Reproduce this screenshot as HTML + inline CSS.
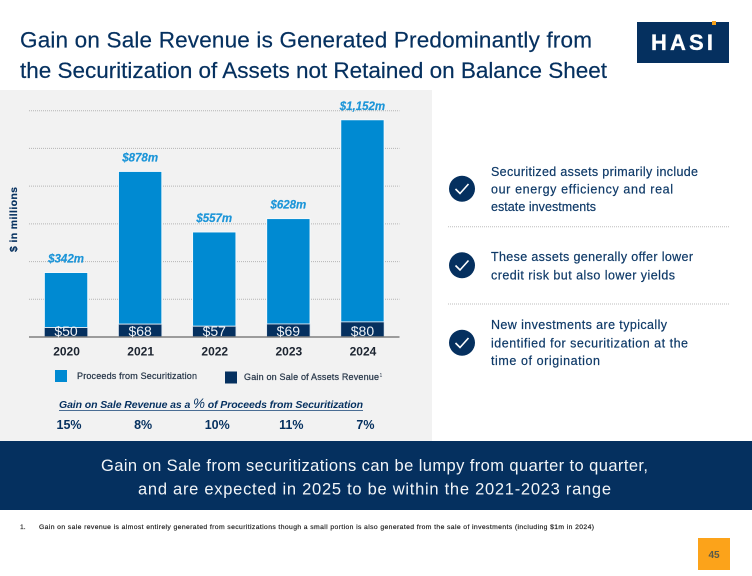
<!DOCTYPE html>
<html lang="en">
<head>
<meta charset="utf-8">
<title>Gain on Sale Revenue</title>
<style>
html,body{margin:0;padding:0;background:#fff;width:752px;height:576px;overflow:hidden}
svg{display:block;font-family:"Liberation Sans",sans-serif}
.navy{fill:#05305f}
.body-text{font-size:12.5px;fill:#0f3a68;stroke:#0f3a68;stroke-width:.2px}
</style>
</head>
<body>
<svg id="slide" width="752" height="576" viewBox="0 0 752 576" xmlns="http://www.w3.org/2000/svg">
  <rect width="752" height="576" fill="#fff"/>

  <g>
    <text class="navy" x="20" y="47.5" font-size="22.5" stroke="#05305f" stroke-width=".2" textLength="572">Gain on Sale Revenue is Generated Predominantly from</text>
    <text class="navy" x="20" y="78" font-size="22.5" stroke="#05305f" stroke-width=".2" textLength="587">the Securitization of Assets not Retained on Balance Sheet</text>
  </g>

  <g>
    <rect x="637" y="22" width="92" height="41" fill="#05305f"/>
    <rect x="712" y="21" width="4" height="4" fill="#f5a11c"/>
    <text x="651" y="50" font-size="22" font-weight="bold" fill="#fff" stroke="#fff" stroke-width=".3" textLength="62">HASI</text>
  </g>

  <rect x="0" y="90" width="432" height="351" fill="#f2f2f2"/>
  <text transform="translate(17,252) rotate(-90)" font-size="10.5" font-weight="bold" fill="#05305f" stroke="#05305f" stroke-width=".2" textLength="65">$ in millions</text>

  <g id="grid"></g>
  <g id="bars"></g>
  <g id="labels"></g>

  <g>
    <g>
      <rect x="55" y="370" width="12" height="12" fill="#008ad2"/>
      <text x="77" y="379" font-size="9" fill="#2b3a4c" stroke="#2b3a4c" stroke-width=".25" textLength="120">Proceeds from Securitization</text>
    </g>
    <g>
      <rect x="225" y="371.5" width="12" height="12" fill="#05305f"/>
      <text x="244" y="380" font-size="9" fill="#2b3a4c" stroke="#2b3a4c" stroke-width=".25" textLength="135">Gain on Sale of Assets Revenue</text>
      <text x="379.5" y="377" font-size="5" fill="#2b3a4c">1</text>
    </g>
  </g>

  <text x="59" y="408" font-size="10.5" font-weight="bold" font-style="italic" class="navy" textLength="304">Gain on Sale Revenue as a <tspan font-size="13.5" font-weight="normal">%</tspan> of Proceeds from Securitization</text>
  <line x1="59" x2="363" y1="410.5" y2="410.5" stroke="#4a6d94" stroke-width="1"/>
  <g id="percents"></g>

  <g>
    <g>
      <circle cx="462" cy="188.7" r="13" fill="#05305f"/>
      <polyline points="455.5,189 460,193.5 468.5,184" fill="none" stroke="#fff" stroke-width="1.6"/>
      <text class="body-text" x="491" y="176" textLength="207">Securitized assets primarily include</text>
      <text class="body-text" x="491" y="193.5" textLength="182">our energy efficiency and real</text>
      <text class="body-text" x="491" y="211" textLength="105">estate investments</text>
    </g>
    <line x1="448" x2="730" y1="226.7" y2="226.7" stroke="#bdbdbd" stroke-width="1" stroke-dasharray="1 1"/>
    <g>
      <circle cx="462" cy="265.3" r="13" fill="#05305f"/>
      <polyline points="455.5,265.5 460,270 468.5,260.5" fill="none" stroke="#fff" stroke-width="1.6"/>
      <text class="body-text" x="491" y="261" textLength="202">These assets generally offer lower</text>
      <text class="body-text" x="491" y="279.5" textLength="184">credit risk but also lower yields</text>
    </g>
    <line x1="448" x2="730" y1="304" y2="304" stroke="#bdbdbd" stroke-width="1" stroke-dasharray="1 1"/>
    <g>
      <circle cx="462" cy="342.7" r="13" fill="#05305f"/>
      <polyline points="455.5,343 460,347.5 468.5,338" fill="none" stroke="#fff" stroke-width="1.6"/>
      <text class="body-text" x="491" y="329" textLength="176">New investments are typically</text>
      <text class="body-text" x="491" y="347.5" textLength="197">identified for securitization at the</text>
      <text class="body-text" x="491" y="365" textLength="109">time of origination</text>
    </g>
  </g>

  <g>
    <rect x="0" y="441" width="752" height="69" fill="#05305f"/>
    <text x="101" y="471" font-size="16.5" fill="#f2f5f8" textLength="547">Gain on Sale from securitizations can be lumpy from quarter to quarter,</text>
    <text x="138" y="494.5" font-size="16.5" fill="#f2f5f8" textLength="473">and are expected in 2025 to be within the 2021-2023 range</text>
  </g>

  <g>
    <text x="20" y="529" font-size="6.8" fill="#222" stroke="#222" stroke-width=".15">1.</text>
    <text x="39" y="529" font-size="6.8" fill="#222" stroke="#222" stroke-width=".2" textLength="555">Gain on sale revenue is almost entirely generated from securitizations though a small portion is also generated from the sale of investments (including $1m in 2024)</text>
  </g>

  <g>
    <rect x="698" y="538" width="32" height="32" fill="#fca31a"/>
    <text x="714" y="558" font-size="10" font-weight="bold" text-anchor="middle" fill="#5a5a4a">45</text>
  </g>
</svg>

<script>
const categories = ["2020", "2021", "2022", "2023", "2024"];
const proceeds = [342, 878, 557, 628, 1152];
const gains = [50, 68, 57, 69, 80];
const totalLabels = ["$342m", "$878m", "$557m", "$628m", "$1,152m"];
const gainLabels = ["$50", "$68", "$57", "$69", "$80"];
const percentLabels = ["15%", "8%", "10%", "11%", "7%"];
const gridTicks = [200, 400, 600, 800, 1000, 1200];

const plotLeft = 29, plotRight = 399.5, plotBottom = 337, plotTop = 110.7, axisMax = 1200;
const NS = "http://www.w3.org/2000/svg";

function yScale(v) {
  return plotBottom - (v / axisMax) * (plotBottom - plotTop);
}
function xCenter(i) {
  const band = (plotRight - plotLeft) / categories.length;
  return plotLeft + band * (i + 0.5);
}
const barWidth = 43.4;

function make(tag, parent, attrs, txt) {
  const el = document.createElementNS(NS, tag);
  for (const k in attrs) el.setAttribute(k, attrs[k]);
  if (txt !== undefined) el.textContent = txt;
  parent.appendChild(el);
  return el;
}

const gridG = document.getElementById("grid");
const barsG = document.getElementById("bars");
const labelsG = document.getElementById("labels");
const pctG = document.getElementById("percents");

gridTicks.forEach(function (t) {
  const ln = make("line", gridG, {
    x1: plotLeft, x2: plotRight, y1: yScale(t), y2: yScale(t),
    stroke: "#b5b5b5", "stroke-width": 1, "stroke-dasharray": "1 1"
  });
  
  
});

categories.forEach(function (c, i) {
  const cx = xCenter(i);
  const bar = make("rect", barsG, {
    x: cx - barWidth / 2, y: yScale(proceeds[i]), width: barWidth,
    height: yScale(gains[i]) - yScale(proceeds[i]),
    fill: "#008ad2", stroke: "#f4f8fb", "stroke-width": 1
  });
  
  

  const gain = make("rect", barsG, {
    x: cx - barWidth / 2, y: yScale(gains[i]), width: barWidth,
    height: plotBottom - yScale(gains[i]),
    fill: "#05305f", stroke: "#dfe6ee", "stroke-width": 0.8
  });
  
  

  const total = make("text", labelsG, {
    x: cx, y: yScale(proceeds[i]) - 10, "text-anchor": "middle",
    "font-size": 11.5, "font-weight": "bold", "font-style": "italic", fill: "#1c95d8", stroke: "#1c95d8", "stroke-width": 0.2
  }, totalLabels[i]);
  
  

  const gl = make("text", labelsG, {
    x: cx, y: plotBottom - 1, "text-anchor": "middle", "font-size": 14, fill: "#eef2f6"
  }, gainLabels[i]);
  
  

  const yr = make("text", labelsG, {
    x: cx + 0.5, y: 355.5, "text-anchor": "middle", "font-size": 12, "font-weight": "bold", fill: "#1c2430"
  }, c);
  
  

  const pct = make("text", pctG, {
    x: cx + 3, y: 429, "text-anchor": "middle", "font-size": 12.5, "font-weight": "bold", fill: "#05305f"
  }, percentLabels[i]);
  
  
});

const axis = make("line", barsG, {
  x1: plotLeft, x2: plotRight, y1: plotBottom, y2: plotBottom, stroke: "#7f7f7f", "stroke-width": 1.4
});


</script>
</body>
</html>
